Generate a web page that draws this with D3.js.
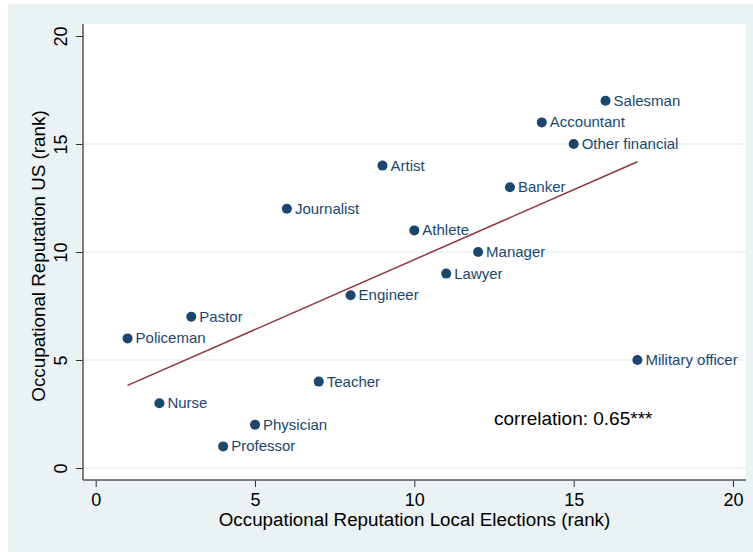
<!DOCTYPE html>
<html>
<head>
<meta charset="utf-8">
<script src="https://cdn.jsdelivr.net/npm/d3@7"></script>
<style>
  body { margin: 0; background: #fff; }
  text { font-family: "Liberation Sans", Arial, Helvetica, sans-serif; }
</style>
</head>
<body>
<svg id="chart"></svg>
<script>
const WIDTH = 753;
const HEIGHT = 552;

// occupations, rank in local elections (x) and in US (y)
const jobs = ['Salesman', 'Accountant', 'Other financial', 'Artist', 'Banker', 'Journalist',
  'Athlete', 'Manager', 'Lawyer', 'Engineer', 'Pastor', 'Policeman', 'Military officer',
  'Teacher', 'Nurse', 'Physician', 'Professor'];
const localRank = [16, 14, 15, 9, 13, 6, 10, 12, 11, 8, 3, 1, 17, 7, 2, 5, 4];
const usRank = [17, 16, 15, 14, 13, 12, 11, 10, 9, 8, 7, 6, 5, 4, 3, 2, 1];

const xTicks = [0, 5, 10, 15, 20];
const yTicks = [0, 5, 10, 15, 20];
const gridTicks = [0, 5, 10, 15];
const corrLabel = 'correlation: 0.65***';

const svg = d3.select('#chart').attr('width', WIDTH).attr('height', HEIGHT);

// outer background + plot region
svg.append('rect').attr('x', 8).attr('y', 4)
  .attr('width', WIDTH - 8).attr('height', HEIGHT - 4)
  .attr('fill', '#eaf2f3');
svg.append('rect').attr('x', 83).attr('y', 24)
  .attr('width', 746 - 83).attr('height', 480 - 24)
  .attr('fill', '#fff');

const x = d3.scaleLinear().domain([0, 20]).range([95.7, 733]);
const y = d3.scaleLinear().domain([0, 20]).range([468, 36]);

// grid
svg.append('g').selectAll('line').data(gridTicks).join('line')
  .attr('x1', 83).attr('x2', 746)
  .attr('y1', d => y(d)).attr('y2', d => y(d))
  .attr('stroke', '#eaf2f3').attr('stroke-width', 1.5);

// axes
const xAxis = svg.append('g').attr('transform', 'translate(0,480)')
  .call(d3.axisBottom(x).tickValues(xTicks).tickSize(7).tickPadding(6));
const yAxis = svg.append('g').attr('transform', 'translate(83,0)')
  .call(d3.axisLeft(y).tickValues(yTicks).tickSize(7));

[xAxis, yAxis].forEach(a => {
  a.select('.domain').remove();
  a.selectAll('line').attr('stroke', '#333').attr('stroke-width', 1);
  a.selectAll('text').attr('fill', '#000').style('font-size', '18px')
    .style('font-family', '"Liberation Sans", Arial, sans-serif');
});
xAxis.selectAll('text').attr('dy', null).attr('y', 26);
yAxis.selectAll('text')
  .attr('x', null).attr('dy', null)
  .attr('transform', 'translate(-16,0) rotate(-90)')
  .attr('text-anchor', 'middle');

svg.append('line').attr('x1', 83).attr('x2', 746).attr('y1', 480).attr('y2', 480)
  .attr('stroke', '#555').attr('stroke-width', 1.5);
svg.append('line').attr('x1', 83).attr('x2', 83).attr('y1', 24).attr('y2', 480)
  .attr('stroke', '#555').attr('stroke-width', 1.5);

// axis titles
svg.append('text')
  .attr('x', 414.5).attr('y', 526)
  .attr('text-anchor', 'middle')
  .style('font-size', '18.8px')
  .text('Occupational Reputation Local Elections (rank)');
svg.append('text')
  .attr('transform', 'translate(45,256) rotate(-90)')
  .attr('text-anchor', 'middle')
  .style('font-size', '18.8px')
  .text('Occupational Reputation US (rank)');

// linear fit
const n = localRank.length;
const mx = d3.mean(localRank), my = d3.mean(usRank);
let sxy = 0, sxx = 0;
for (let i = 0; i < n; i++) {
  sxy += (localRank[i] - mx) * (usRank[i] - my);
  sxx += (localRank[i] - mx) ** 2;
}
const slope = sxy / sxx;
const inter = my - slope * mx;
const [x0, x1] = d3.extent(localRank);
svg.append('line')
  .attr('x1', x(x0)).attr('y1', y(inter + slope * x0))
  .attr('x2', x(x1)).attr('y2', y(inter + slope * x1))
  .attr('stroke', '#90353b').attr('stroke-width', 1.5);

// points + labels
const pts = jobs.map((j, i) => ({name: j, lx: localRank[i], uy: usRank[i]}));
const g = svg.append('g');
g.selectAll('circle').data(pts).join('circle')
  .attr('cx', d => x(d.lx)).attr('cy', d => y(d.uy)).attr('r', 5)
  .attr('fill', '#1a476f');
g.selectAll('text').data(pts).join('text')
  .attr('x', d => x(d.lx) + 8).attr('y', d => y(d.uy) + 5)
  .attr('fill', '#1a476f')
  .style('font-size', '15px')
  .text(d => d.name);

svg.append('text')
  .attr('x', x(12.5)).attr('y', y(2))
  .style('font-size', '19px')
  .text(corrLabel);
</script>
</body>
</html>
